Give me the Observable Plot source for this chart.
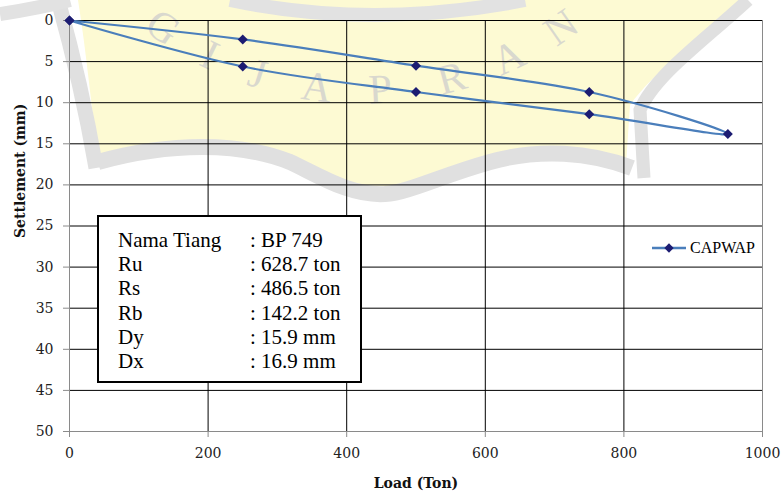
<!DOCTYPE html>
<html>
<head>
<meta charset="utf-8">
<script src="https://cdn.jsdelivr.net/npm/d3@7"></script>
<script src="https://cdn.jsdelivr.net/npm/@observablehq/plot@0.6"></script>
<style>
  body { margin: 0; background: #fff; }
  #wrap { position: relative; width: 783px; height: 494px; overflow: hidden; }
  #wm, #chart { position: absolute; left: 0; top: 0; }
  #info {
    position: absolute; left: 97px; top: 215px; width: 265px; height: 168px;
    box-sizing: border-box; border: 2px solid #000; background: #fff;
    font-family: "Liberation Serif", "Times New Roman", serif; font-size: 21px;
    line-height: 24.2px; padding: 11px 0 0 19px; color: #000;
  }
  #info .row { display: flex; white-space: nowrap; }
  #info .lab { width: 132px; }
  #legend {
    position: absolute; left: 652px; top: 239px; height: 18px; display: flex; align-items: center;
    font-family: "Liberation Serif", "Times New Roman", serif; font-size: 16px; color: #000;
  }
</style>
</head>
<body>
<div id="wrap">
  <svg id="wm" width="783" height="494"></svg>
  <div id="chart"></div>
  <div id="info"></div>
  <div id="legend"></div>
</div>
<script>
// ---- data ----
const load = [0, 250, 500, 750, 950, 750, 500, 250, 0];
const settlement = [0, 2.3, 5.5, 8.7, 13.8, 11.4, 8.7, 5.6, 0];
const xTicks = [0, 200, 400, 600, 800, 1000];
const yTicks = [0, 5, 10, 15, 20, 25, 30, 35, 40, 45, 50];
const seriesName = "CAPWAP";
const xTitle = "Load (Ton)";
const yTitle = "Settlement (mm)";
const infoLabels = ["Nama Tiang", "Ru", "Rs", "Rb", "Dy", "Dx"];
const infoValues = [": BP 749", ": 628.7 ton", ": 486.5 ton", ": 142.2 ton", ": 15.9 mm", ": 16.9 mm"];
const watermarkLetters = ["G", "I", "J", "A", "P", "R", "A", "N"];
const watermarkAngles = [35, 26, 17.5, 7.5, -3, -15, -25, -35];

const lineColor = "#4a7ebb";
const markerColor = "#1c1c72";

// ---- decorative background watermark ----
const wm = d3.select("#wm");
wm.append("path")
  .attr("d", "M78,0 H742 C705,35 655,70 630,105 L626,165 C590,150 540,142 490,158 C440,176 410,186 385,186 C350,186 320,172 290,160 C240,140 170,140 98,160 C92,110 86,50 78,0 Z")
  .attr("fill", "#fdfad3");
wm.append("path")
  .attr("d", "M98,162 C170,142 240,142 290,162 C320,176 350,196 385,194 C410,192 440,176 490,162 C540,148 590,152 632,168")
  .attr("fill", "none").attr("stroke", "#e0e0e0").attr("stroke-width", 16);
wm.append("path")
  .attr("d", "M58,0 C72,50 86,110 96,168")
  .attr("fill", "none").attr("stroke", "#e0e0e0").attr("stroke-width", 15);
wm.append("path")
  .attr("d", "M748,0 C705,40 655,75 640,110 L644,178")
  .attr("fill", "none").attr("stroke", "#e0e0e0").attr("stroke-width", 13);
wm.append("path")
  .attr("d", "M230,0 Q372,30 525,0")
  .attr("fill", "none").attr("stroke", "#e2e2e2").attr("stroke-width", 14);
wm.append("path")
  .attr("d", "M0,14 Q40,8 70,0")
  .attr("fill", "none").attr("stroke", "#e2e2e2").attr("stroke-width", 14);
const cx = 362, cy = -261, rad = 346;
watermarkLetters.forEach((ch, i) => {
  const a = watermarkAngles[i] * Math.PI / 180;
  const x = cx - rad * Math.sin(a), y = cy + rad * Math.cos(a) + 4;
  wm.append("text")
    .attr("transform", `translate(${x},${y}) rotate(${watermarkAngles[i]})`)
    .attr("text-anchor", "middle").attr("dy", "0.35em")
    .attr("font-family", "Liberation Serif").attr("font-size", 42)
    .attr("fill", "#cdcdcd").attr("fill-opacity", 0.75)
    .text(ch);
});

// ---- chart ----
const data = load.map((x, i) => ({load: x, settlement: settlement[i]}));

const chart = Plot.plot({
  width: 783,
  height: 494,
  marginLeft: 69,
  marginRight: 21,
  marginTop: 20,
  marginBottom: 63,
  style: {background: "transparent", fontFamily: "DejaVu Serif", fontSize: "14px", color: "#222", overflow: "visible"},
  x: {domain: [0, 1000], ticks: xTicks, label: null},
  y: {domain: [0, 50], reverse: true, ticks: yTicks, label: null},
  marks: [
    Plot.gridX(xTicks.filter(d => d > 0 && d < 1000), {stroke: "#000", strokeOpacity: 1}),
    Plot.gridY(yTicks.filter(d => d < 50), {stroke: "#000", strokeOpacity: 1}),
    Plot.ruleX([0, 1000], {stroke: "#8a8a8a"}),
    Plot.ruleY([50], {stroke: "#8a8a8a"}),
    Plot.axisX({ticks: xTicks, tickFormat: d => String(d), tickSize: 6, tickPadding: 11, stroke: "#8a8a8a", fill: "#222", label: null}),
    Plot.axisY({ticks: yTicks, tickFormat: d => String(d), tickSize: 6, tickPadding: 10, stroke: "#8a8a8a", fill: "#222", label: null}),
    Plot.line(data, {x: "load", y: "settlement", curve: "cardinal", stroke: lineColor, strokeWidth: 2.2}),
    Plot.dot(data, {x: "load", y: "settlement", symbol: "diamond2", r: 4.5, fill: markerColor, stroke: "none"}),
    Plot.text([xTitle], {text: d => d, frameAnchor: "bottom", dy: 56, fontWeight: "bold", fill: "#111"}),
    Plot.text([yTitle], {text: d => d, frameAnchor: "left", dx: -49, dy: 12, rotate: -90, fontWeight: "bold", fill: "#111"})
  ]
});
document.getElementById("chart").append(chart);

// ---- info box ----
const info = d3.select("#info");
infoLabels.forEach((lab, i) => {
  const row = info.append("div").attr("class", "row");
  row.append("span").attr("class", "lab").text(lab);
  row.append("span").text(infoValues[i]);
});

// ---- legend ----
const leg = d3.select("#legend");
const sw = leg.append("svg").attr("width", 38).attr("height", 18);
sw.append("line").attr("x1", 0).attr("x2", 34).attr("y1", 9).attr("y2", 9)
  .attr("stroke", lineColor).attr("stroke-width", 2.5);
sw.append("path").attr("d", d3.symbol(d3.symbolDiamond2, Math.PI * 4.2 * 4.2)())
  .attr("transform", "translate(17,9)").attr("fill", markerColor);
leg.append("span").text(seriesName);
</script>
</body>
</html>
